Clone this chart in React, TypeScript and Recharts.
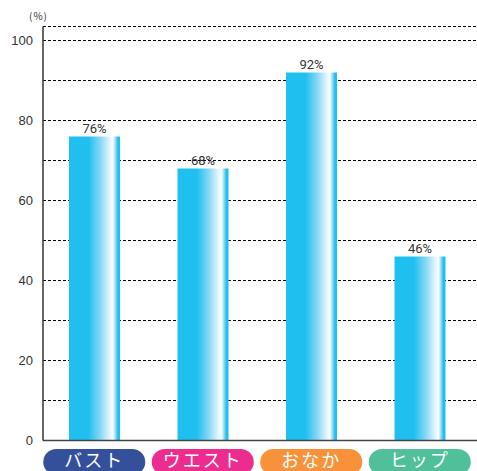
import { BarChart, Bar, XAxis, YAxis, CartesianGrid, LabelList } from 'recharts';

const parts = ['バスト', 'ウエスト', 'おなか', 'ヒップ'];
const rates = [76, 68, 92, 46];
const pillColors = ['#34509a', '#ec2d8f', '#f7913a', '#4fc09a'];
const yTicks = [0, 10, 20, 30, 40, 50, 60, 70, 80, 90, 100];

const data = parts.map((name, i) => ({ name, rate: rates[i] }));

function PillTick(props: any) {
  const { x, y, payload, index } = props;
  const w = 102;
  const h = 26;
  return (
    <g>
      <rect x={x - w / 2} y={y} width={w} height={h} rx={13} ry={13} fill={pillColors[index % pillColors.length]} />
      <text
        x={x}
        y={y + 18}
        textAnchor="middle"
        fill="#fff"
        fontSize={18}
        fontFamily="'Noto Sans CJK JP', sans-serif"
        letterSpacing={2}
      >
        {payload.value}
      </text>
    </g>
  );
}

export default function App() {
  return (
    <div style={{ position: 'absolute', left: 0, top: 0, width: 477, height: 471, background: '#fff' }}>
      <div
        style={{
          position: 'absolute',
          left: 29,
          top: 8,
          fontSize: 10,
          letterSpacing: 1,
          color: '#333',
          fontFamily: "'Noto Sans CJK JP', sans-serif",
        }}
      >
        (%)
      </div>
      <BarChart width={477} height={471} data={data} margin={{ top: 26.5, right: 0, left: 0, bottom: 0 }}>
        <defs>
          <linearGradient id="barFill" x1="0" y1="0" x2="1" y2="0">
            <stop offset="0%" stopColor="#1fbff0" />
            <stop offset="38%" stopColor="#1fbff0" />
            <stop offset="62%" stopColor="#8ad8f6" />
            <stop offset="86%" stopColor="#ffffff" />
            <stop offset="92%" stopColor="#80d5f5" />
            <stop offset="96%" stopColor="#1fbff0" />
            <stop offset="100%" stopColor="#1fbff0" />
          </linearGradient>
        </defs>
        <CartesianGrid vertical={false} stroke="#000" strokeDasharray="3 2" strokeWidth={1} />
        <XAxis
          dataKey="name"
          height={30.5}
          padding={{ left: -3, right: 3 }}
          tickLine={false}
          tickSize={0}
          tickMargin={8.5}
          interval={0}
          axisLine={{ stroke: '#444', strokeWidth: 1.5 }}
          tick={<PillTick />}
        />
        <YAxis
          width={43}
          domain={[0, 103.5]}
          ticks={yTicks}
          interval={0}
          tickLine={false}
          tickSize={0}
          tickMargin={10}
          axisLine={{ stroke: '#333', strokeWidth: 1.5 }}
          tickFormatter={(v: number) => (v % 20 === 0 ? String(v) : '')}
          tick={{ fontSize: 13, fill: '#333', fontFamily: "'Liberation Sans', sans-serif" }}
        />
        <Bar dataKey="rate" barSize={51} fill="url(#barFill)" isAnimationActive={false}>
          <LabelList
            dataKey="rate"
            position="top"
            offset={4}
            formatter={(v: any) => `${v}%`}
            style={{ fontSize: 13, fill: '#333', fontFamily: 'Roboto, sans-serif' }}
          />
        </Bar>
      </BarChart>
    </div>
  );
}
